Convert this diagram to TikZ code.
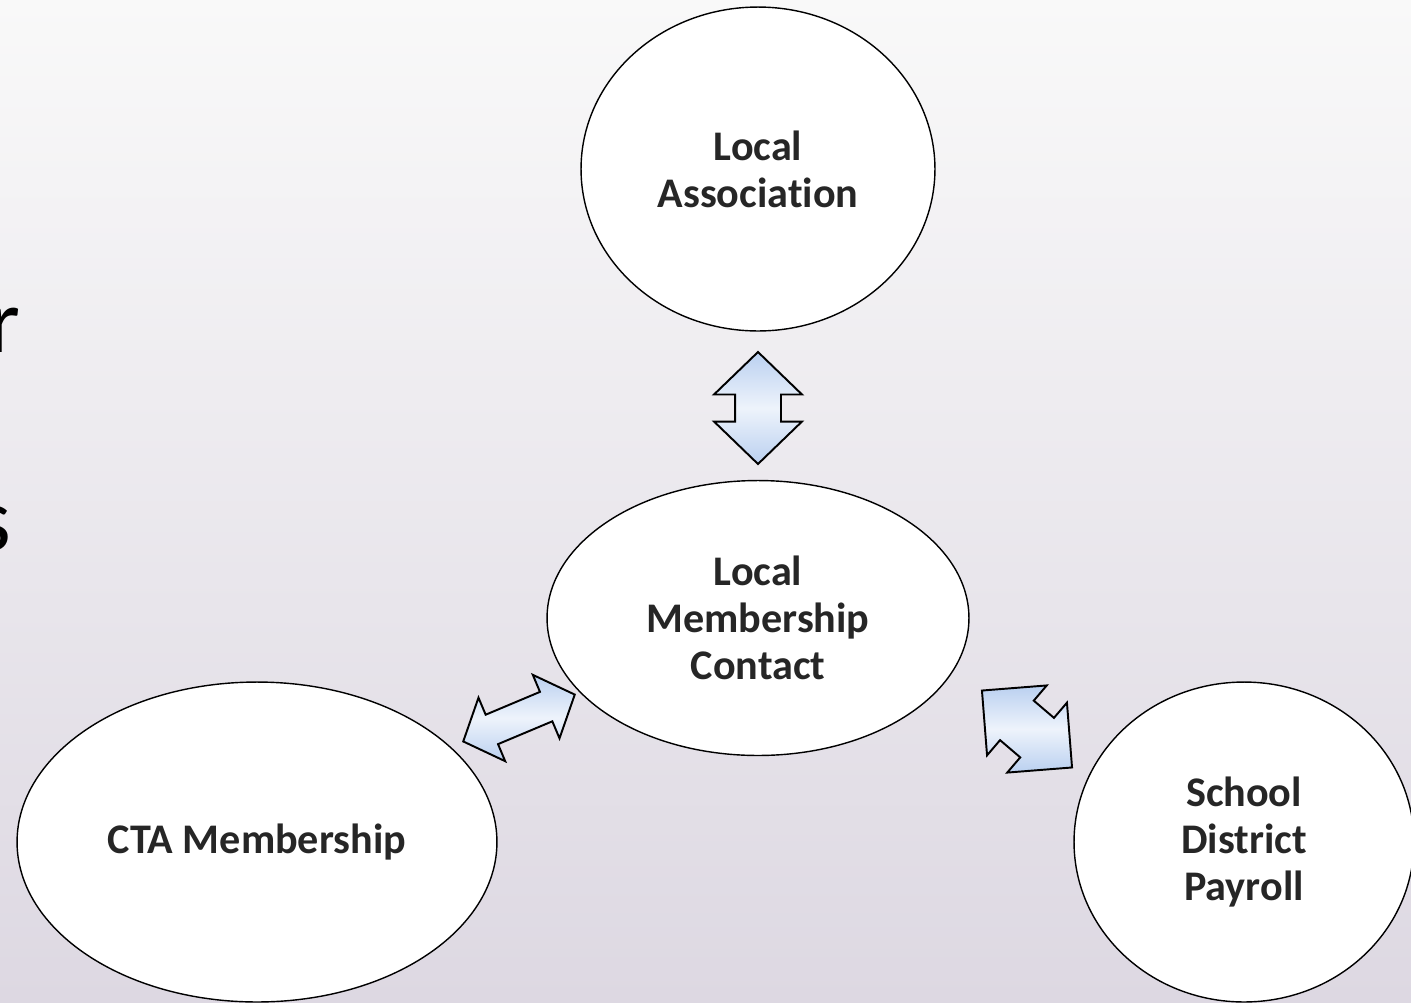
\documentclass[tikz,border=0pt]{standalone}
\usepackage{fontspec}
\setmainfont{Carlito}[Ligatures=NoCommon]
\usetikzlibrary{shapes.geometric,shapes.arrows}
\definecolor{bgtop}{RGB}{249,249,249}
\definecolor{bgbot}{RGB}{221,216,226}
\definecolor{arrblue}{RGB}{186,208,240}
\definecolor{inkgray}{RGB}{38,38,38}

\begin{document}
\begin{tikzpicture}[x=0.02cm,y=-0.02cm,
 bub/.style={ellipse,draw=black,line width=0.8pt,fill=white,inner sep=0pt,text=inkgray,
   font=\bfseries\fontsize{24}{26.7}\selectfont,align=center},
 darr/.style={double arrow,draw=black,line width=1.1pt,inner xsep=0pt,
   top color=arrblue,bottom color=arrblue,middle color=white!75!arrblue},
 cut/.style={anchor=base east,inner sep=0pt,font=\fontsize{52}{60}\selectfont}]
 \useasboundingbox (0,0) rectangle (1411,1002);
 \clip (0,0) rectangle (1411,1002);
 \fill[top color=bgtop,bottom color=bgbot] (0,0) rectangle (1411,1002);

 % cut-off text at the left edge
 \node[cut] (tr) at (21,352) {r};
 \node[cut] (ts) at (12,550) {s};

 % bubbles
 \node[bub,minimum width=7.08cm,minimum height=6.48cm] (loc) at (758,169) {Local\\Association};
 \node[bub,minimum width=8.44cm,minimum height=5.5cm] (lmc) at (758,618) {Local\\Membership\\Contact};
 \node[bub,minimum width=9.6cm,minimum height=6.4cm] (cta) at (257,842) {CTA Membership};
 \node[bub,minimum width=6.8cm,minimum height=6.4cm] (sdp) at (1244,842) {School\\District\\Payroll};

 % block arrows
 \node[darr,rotate=90,minimum height=2.24cm,inner ysep=0.44cm,
   double arrow head extend=0.42cm,double arrow tip angle=92] (up) at (758,408) {};
 \node[darr,rotate=22.8,minimum height=2.42cm,inner ysep=0.3cm,
   double arrow head extend=0.37cm,double arrow tip angle=96] (lft) at (519,718) {};
 \node[darr,rotate=-40.5,minimum height=2.37cm,inner ysep=0.5cm,
   double arrow head extend=0.4cm,double arrow tip angle=90] (rgt) at (1027,729) {};
\end{tikzpicture}
\end{document}
